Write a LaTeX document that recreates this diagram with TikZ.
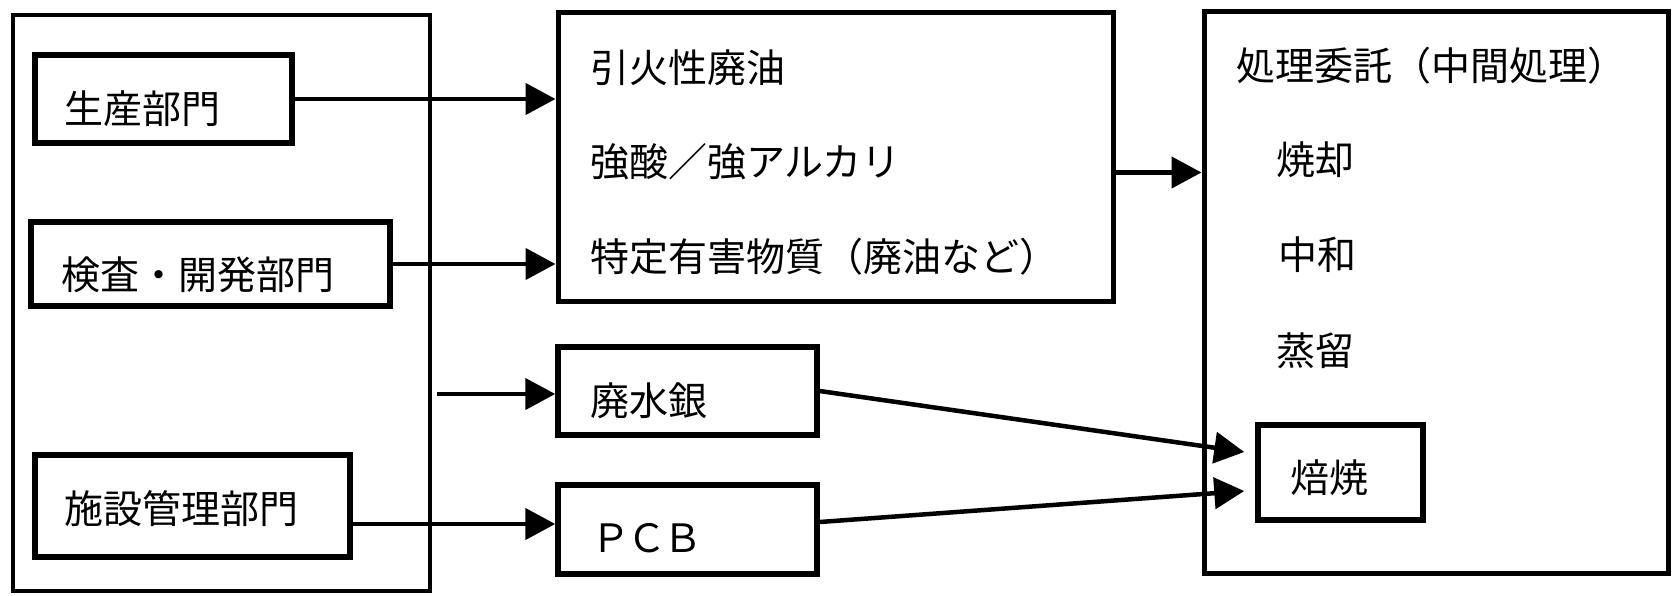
\documentclass[tikz,border=0pt]{standalone}
\usepackage{fontspec}
\newfontfamily\jp{Noto Sans CJK JP}
\usetikzlibrary{arrows.meta}
\begin{document}
\begin{tikzpicture}[x=1pt,y=-1pt,
  box/.style={draw=black,line width=#1,rectangle,inner sep=0pt},
  box/.default=5.5pt,
  lbl/.style={anchor=west,inner sep=0pt,font=\jp\fontsize{39pt}{46pt}\selectfont},
  arr/.style={draw=black,line width=4.5pt,-{Triangle[length=30pt,width=31pt]}}]
\useasboundingbox[fill=white] (0,0) rectangle (1672,595);
% boxes
\node[box=4.5pt,minimum width=417pt,minimum height=576pt] (L) at (221.5,303) {};
\node[box,minimum width=257pt,minimum height=88pt] (A) at (163.5,99) {};
\node[box,minimum width=359pt,minimum height=84pt] (B) at (210.5,264) {};
\node[box,minimum width=315pt,minimum height=102pt] (C) at (192.5,506) {};
\node[box=5pt,minimum width=555pt,minimum height=289pt] (M) at (835.5,156.5) {};
\node[box,minimum width=259pt,minimum height=88pt] (H) at (687.5,391) {};
\node[box,minimum width=259pt,minimum height=89pt] (P) at (687.5,529.5) {};
\node[box=5pt,minimum width=464pt,minimum height=562pt] (R) at (1436,292) {};
\node[box,minimum width=165pt,minimum height=95pt] (Y) at (1340.5,472.5) {};
% texts
\node[lbl] (tA) at (64,109) {生産部門};
\node[lbl] (tB) at (61,275) {検査・開発部門};
\node[lbl] (tC) at (64,509) {施設管理部門};
\node[lbl] (tM1) at (590,68) {引火性廃油};
\node[lbl] (tM2) at (590,162) {強酸／強アルカリ};
\node[lbl] (tM3) at (590,257) {特定有害物質（廃油など）};
\node[lbl] (tH) at (590,401) {廃水銀};
\node[lbl] (tP) at (591,538) {Ｐ\hspace{-3pt}Ｃ\hspace{-3pt}Ｂ};
\node[lbl] (tR0) at (1236,66) {処理委託（中間処理）};
\node[lbl] (tR1) at (1276,160) {焼却};
\node[lbl] (tR2) at (1278,255) {中和};
\node[lbl] (tR3) at (1276,351) {蒸留};
\node[lbl] (tY) at (1290,478) {焙焼};
% connectors
\coordinate (s3) at (437,394);
\draw[arr] (A.east) -- (A.east -| M.west);
\draw[arr] (B.east) -- (B.east -| M.west);
\draw[arr] (s3) -- (s3 -| H.west);
\draw[arr] ([yshift=-18pt]C.east) -- ([yshift=-18pt]C.east -| P.west);
\draw[arr] ([yshift=-16pt]M.east) -- ([yshift=-16pt]M.east -| R.west);
\draw[arr] (H.east) -- ([xshift=-11pt,yshift=20.5pt]Y.west);
\draw[arr] ([yshift=7.5pt]P.east) -- ([xshift=-11pt,yshift=-18.5pt]Y.west);
\end{tikzpicture}
\end{document}
